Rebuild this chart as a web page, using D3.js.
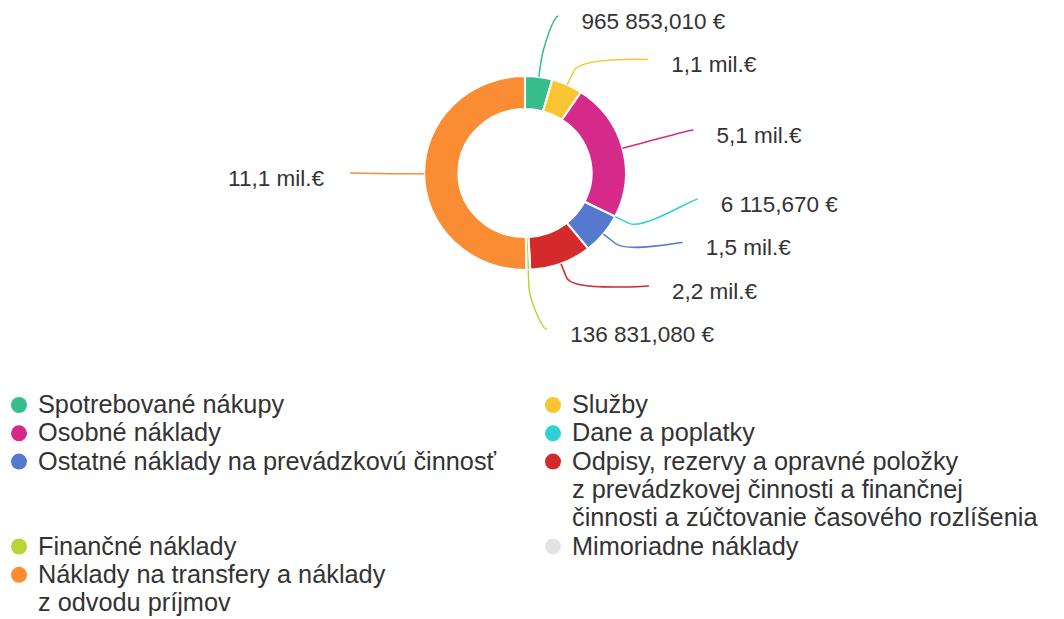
<!DOCTYPE html>
<html><head><meta charset="utf-8">
<script src="https://cdn.jsdelivr.net/npm/d3@7"></script>
<style>
body{margin:0;background:#fff;}
svg text{font-family:"Liberation Sans",Arial,Helvetica,sans-serif;fill:#333;}
</style>
</head><body>
<svg id="chart" width="1064" height="619"></svg>
<script>
// ---- data ----
const categories = [
  "Spotrebované nákupy",
  "Služby",
  "Osobné náklady",
  "Dane a poplatky",
  "Ostatné náklady na prevádzkovú činnosť",
  "Odpisy, rezervy a opravné položky\nz prevádzkovej činnosti a finančnej\nčinnosti a zúčtovanie časového rozlíšenia",
  "Finančné náklady",
  "Mimoriadne náklady",
  "Náklady na transfery a náklady\nz odvodu príjmov"
];
const values = [965853.010, 1100000, 5100000, 6115.670, 1500000, 2200000, 136831.080, 0, 11100000];
const colors = ["#36bd8b","#f9c532","#d62a8a","#2fd0d7","#5679cf","#d42a2c","#b6d637","#e3e3e3","#fa8c34"];

// ---- layout constants ----
const cx = 525, cy = 173, R = 97, r = 64, sx = 1.04;
const labelCy = 164, labelR = 133, gap = 43.5, endRx = 175, endRy = 160;

const svg = d3.select("#chart");

function fmt(v){
  if (v >= 1e6) return d3.format(".1f")(v/1e6).replace(".", ",") + " mil.€";
  return d3.format(",.3f")(v).replace(/,/g, " ").replace(".", ",") + " €";
}

const pie = d3.pie().sort(null).value(d => d.value);
const data = categories.map((c,i)=>({name:c, value:values[i], color:colors[i], i}));
const arcs = pie(data);
const arcGen = d3.arc().innerRadius(r).outerRadius(R);

const g = svg.append("g").attr("transform", `translate(${cx},${cy}) scale(${sx},1)`);
g.selectAll("path").data(arcs.filter(a => a.data.value > 0)).join("path")
  .attr("d", arcGen)
  .attr("fill", d => d.data.color)
  .attr("stroke", "#fff")
  .attr("stroke-width", 2)
  .attr("stroke-linejoin", "round");

// ---- labels ----
const labels = arcs.filter(a => a.data.value > 0).map(a => {
  const ang = (a.startAngle + a.endAngle) / 2;
  return {a, ang, right: Math.sin(ang) >= 0, ny: labelCy - labelR * Math.cos(ang)};
});

function spread(items){
  items.sort((p,q)=>p.ny-q.ny);
  let cl = items.map(d=>({items:[d], sum:d.ny}));
  const pos = c => { const n=c.items.length, m=c.sum/n; return [m-(n-1)/2*gap, m+(n-1)/2*gap]; };
  let changed = true;
  while(changed){
    changed = false;
    for(let i=0;i<cl.length-1;i++){
      const A = pos(cl[i]), B = pos(cl[i+1]);
      if (A[1] + gap > B[0]) {
        cl[i] = {items: cl[i].items.concat(cl[i+1].items), sum: cl[i].sum + cl[i+1].sum};
        cl.splice(i+1,1); changed = true; break;
      }
    }
  }
  cl.forEach(c => { const s = pos(c)[0]; c.items.forEach((d,k)=> d.y = s + k*gap); });
}
spread(labels.filter(d=>d.right));
spread(labels.filter(d=>!d.right));

const lg = svg.append("g");
labels.forEach(d => {
  const ey = d.right ? d.y : cy;
  const dy = ey - cy;
  const s = Math.sin(d.ang), c = Math.cos(d.ang);
  const ell = endRx * Math.sqrt(Math.max(0, 1 - (dy/endRy)*(dy/endRy)));
  const xoff = Math.max(14, Math.min(ell, endRx * Math.abs(s) * 2.5 + 8));
  const ex = d.right ? cx + xoff : cx - xoff;
  const tx = cx + sx*R*s, ty = cy - R*c;
  const bx = cx + sx*(R+15)*s, by = cy - (R+15)*c;
  const kx = 2*bx - tx, ky = 2*by - ty;
  const p = d3.path();
  p.moveTo(ex, ey);
  p.bezierCurveTo(ex + (d.right ? -5 : 5), ey, kx, ky, bx, by);
  p.lineTo(tx, ty);
  lg.append("path").attr("d", p.toString()).attr("fill","none")
    .attr("stroke", d.a.data.color).attr("stroke-width", 1.5);
  lg.append("text")
    .attr("x", d.right ? ex + 23 : ex - 26)
    .attr("y", ey + 5).attr("dy", "0.35em")
    .attr("text-anchor", d.right ? "start" : "end")
    .style("font-size", "22.5px")
    .text(fmt(d.a.data.value));
});

// ---- legend ----
const colX = [38, 572];
const lineH = 28.3;
let y = 413;
const leg = svg.append("g");
for (let row = 0; row * 2 < data.length; row++) {
  const pair = data.slice(row*2, row*2+2);
  let maxLines = 1;
  pair.forEach((d, k) => {
    const lines = d.name.split("\n");
    maxLines = Math.max(maxLines, lines.length);
    leg.append("circle").attr("cx", colX[k] - 19).attr("cy", y - 8).attr("r", 8).attr("fill", d.color);
    const t = leg.append("text").attr("x", colX[k]).attr("y", y).style("font-size", "25.3px");
    lines.forEach((ln, j) => t.append("tspan").attr("x", colX[k]).attr("dy", j ? lineH : 0).text(ln));
  });
  y += maxLines * lineH;
}
</script>
</body></html>
